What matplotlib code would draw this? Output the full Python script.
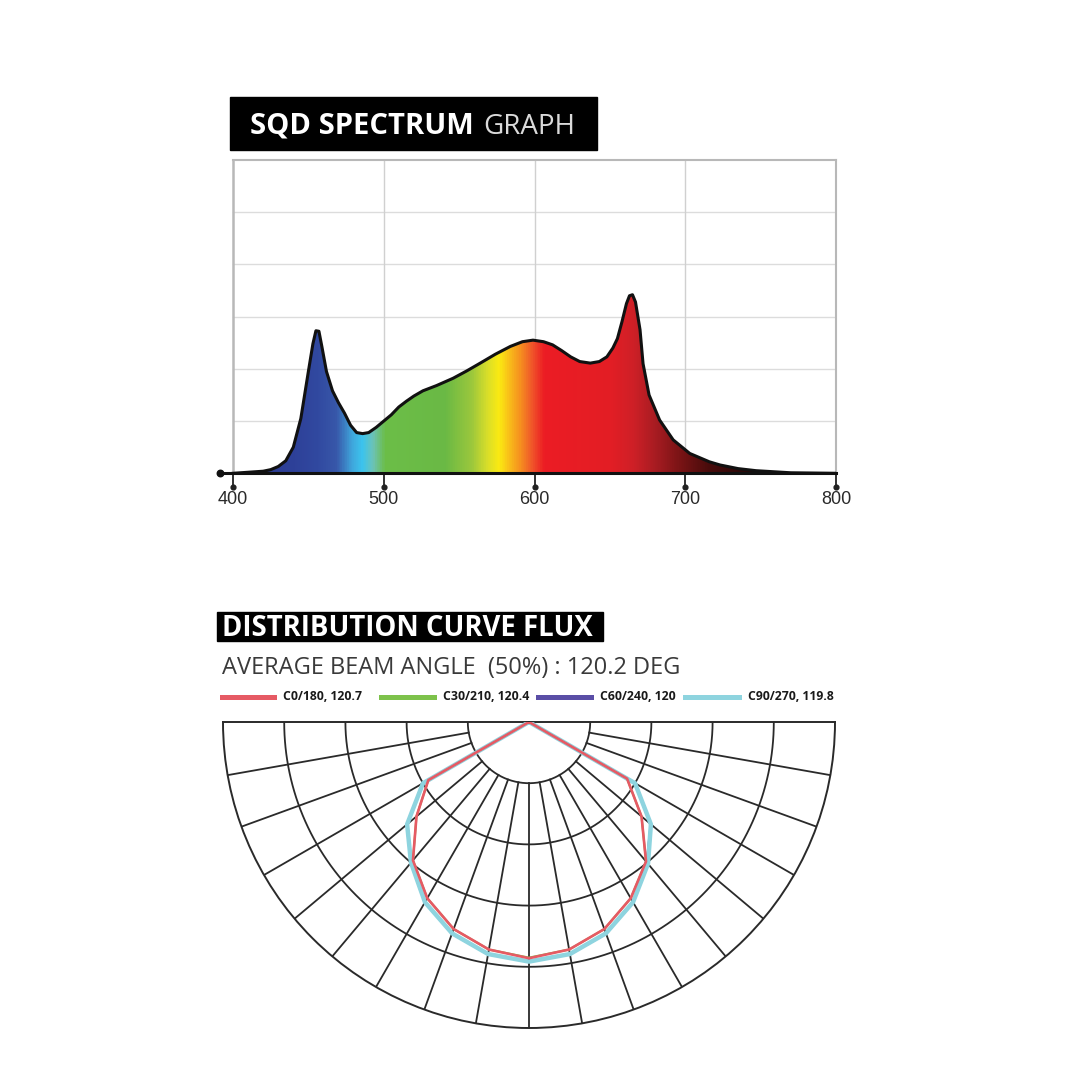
import numpy as np
import matplotlib
matplotlib.use("Agg")
import matplotlib.pyplot as plt
from matplotlib.colors import LinearSegmentedColormap, Normalize
from matplotlib.lines import Line2D
from matplotlib.patches import Rectangle, Polygon

# ---------------- data ----------------
wavelength_nm = [400, 410, 420, 425, 430, 435, 440, 445, 450, 453, 455, 457, 459, 462,
                 466, 470, 474, 478, 482, 486, 490, 495, 500, 505, 510, 515, 520,
                 526, 535, 546, 555, 564, 574, 584, 592, 599, 606, 612, 618, 624,
                 630, 637, 643, 648, 652, 655, 658, 661, 663, 665, 667, 670, 672, 676,
                 683, 692, 703, 716, 723, 735, 747, 770, 800]
intensity = [0.0, 0.02, 0.04, 0.07, 0.13, 0.24, 0.50, 1.05, 1.95, 2.48, 2.73, 2.72, 2.42, 1.95,
             1.58, 1.35, 1.15, 0.92, 0.78, 0.76, 0.78, 0.88, 1.00, 1.12, 1.27, 1.38, 1.48,
             1.58, 1.68, 1.82, 1.96, 2.11, 2.28, 2.43, 2.52, 2.55, 2.52, 2.46, 2.35, 2.23,
             2.14, 2.11, 2.14, 2.23, 2.40, 2.58, 2.90, 3.25, 3.40, 3.42, 3.28, 2.75, 2.10, 1.50,
             1.02, 0.64, 0.38, 0.22, 0.16, 0.09, 0.05, 0.01, 0.0]
x_ticks = [400, 500, 600, 700, 800]
x_tick_labels = ["400", "500", "600", "700", "800"]
y_grid = [1, 2, 3, 4, 5]

polar_angles_deg = [-90, -80, -70, -60, -50, -40, -30, -20, -10, 0,
                    10, 20, 30, 40, 50, 60, 70, 80, 90]
c0_180 = [0, 0, 0, 0.38, 0.48, 0.59, 0.665, 0.72, 0.755, 0.772,
          0.755, 0.72, 0.665, 0.595, 0.48, 0.37, 0, 0, 0]
c30_210 = [0, 0, 0, 0.38, 0.48, 0.59, 0.665, 0.72, 0.755, 0.77,
           0.755, 0.72, 0.665, 0.595, 0.48, 0.37, 0, 0, 0]
c60_240 = [0, 0, 0, 0.40, 0.52, 0.60, 0.68, 0.735, 0.77, 0.782,
           0.77, 0.735, 0.68, 0.60, 0.52, 0.40, 0, 0, 0]
c90_270 = [0, 0, 0, 0.40, 0.52, 0.60, 0.68, 0.735, 0.77, 0.783,
           0.77, 0.735, 0.68, 0.605, 0.52, 0.40, 0, 0, 0]
legend_labels = ["C0/180, 120.7", "C30/210, 120.4", "C60/240, 120", "C90/270, 119.8"]
legend_colors = ["#E65A64", "#7DC24B", "#5A4EA6", "#8ED4DF"]
ring_radii = [0.2, 0.4, 0.6, 0.8]
spoke_angles_deg = [-80, -70, -60, -50, -40, -30, -20, -10, 0, 10, 20, 30, 40, 50, 60, 70, 80]

# ---------------- figure ----------------
W = H = 1080
fig = plt.figure(figsize=(10.8, 10.8), dpi=100)
fig.patch.set_facecolor("white")


def fx(x):
    return x / W


def fy(y):
    return 1 - y / H


FONT = ["Open Sans", "DejaVu Sans"]

# ---- title box 1 ----
fig.add_artist(Rectangle((fx(230), fy(150)), (597 - 230) / W, (150 - 97) / H,
                         transform=fig.transFigure, color="black", zorder=1))
fig.text(fx(250), fy(133.5), "SQD SPECTRUM", color="white", fontsize=21,
         fontweight="bold", family=FONT, va="baseline", ha="left")
fig.text(fx(483), fy(133.5), "GRAPH", color="#DADADA", fontsize=20,
         fontweight="normal", family=FONT, va="baseline", ha="left")

# ---- spectrum axes ----
L, R, T, B = 220.5, 836, 160, 473.3
x_left = 400 - (233 - L) / ((836 - 233) / 400)
ax = fig.add_axes([fx(L), fy(B), (R - L) / W, (B - T) / H])
ax.set_xlim(x_left, 800)
ax.set_ylim(0, 6)
for s in ax.spines.values():
    s.set_visible(False)

stops = [(400, "#2B3A8C"), (440, "#2E4199"), (455, "#3149A0"), (468, "#3858AA"),
         (478, "#3FA6DC"), (485, "#3CC4EE"), (492, "#6CC3B8"), (500, "#6CBE48"),
         (540, "#6AB945"), (558, "#9CC83C"), (568, "#D8DE2A"), (576, "#FBEA12"),
         (582, "#F9C219"), (590, "#F6901F"), (598, "#F0552A"), (606, "#EC1C24"),
         (650, "#E31E25"), (665, "#CF2027"), (680, "#A81C22"), (695, "#7D1416"),
         (715, "#4A0C0C"), (740, "#2A0808"), (800, "#1A0606")]
cmap = LinearSegmentedColormap.from_list(
    "spec", [((w - 400) / 400, c) for w, c in stops])

# grid
for g in y_grid:
    ax.plot([400, 800], [g, g], color="#DCDCDC", lw=1.0, zorder=0)
for xv in x_ticks[1:-1]:
    ax.plot([xv, xv], [0, 6], color="#D0D0D0", lw=1.0, zorder=0)
# frame
ax.plot([400, 400], [0, 6], color="#B8B8B8", lw=1.8, zorder=1, clip_on=False)
ax.plot([400, 800], [6, 6], color="#B8B8B8", lw=1.5, zorder=1, clip_on=False)
ax.plot([800, 800], [0, 6], color="#B8B8B8", lw=1.5, zorder=1, clip_on=False)

verts = list(zip(wavelength_nm, intensity)) + [(800, 0), (400, 0)]
poly = Polygon(verts, closed=True, facecolor="none", edgecolor="none")
ax.add_patch(poly)
grad = np.linspace(x_left, 800, 1600)[None, :]
im = ax.imshow(grad, extent=[x_left, 800, 0, 6], aspect="auto", cmap=cmap,
               norm=Normalize(400, 800), origin="lower", zorder=2,
               interpolation="bilinear")
im.set_clip_path(poly)
ax.plot(wavelength_nm, intensity, color="#111111", lw=2.2, zorder=3,
        solid_joinstyle="round")

# baseline and ticks
ax.plot([x_left, 800], [0, 0], color="#111111", lw=2.2, zorder=4, clip_on=False)
ax.scatter([x_left], [0], s=22, color="#111111", zorder=5, clip_on=False)
ax.set_xticks(x_ticks)
ax.set_xticklabels(x_tick_labels, family=["Liberation Sans", "DejaVu Sans"],
                   fontsize=13, color="#2A2A2A")
ax.set_yticks([])
ax.tick_params(axis="x", direction="out", length=9.5, width=1.3, color="#222222", pad=3)
ax.scatter(x_ticks, [-0.26] * len(x_ticks), s=12, color="#222222", zorder=5, clip_on=False)

# ---- title box 2 ----
fig.add_artist(Rectangle((fx(217), fy(641)), (603 - 217) / W, (641 - 612) / H,
                         transform=fig.transFigure, color="black", zorder=1))
fig.text(fx(222), fy(636), "DISTRIBUTION CURVE FLUX", color="white", fontsize=19.8,
         fontweight="bold", family=FONT, va="baseline", ha="left")
fig.text(fx(222), fy(674), "AVERAGE BEAM ANGLE  (50%) : 120.2 DEG", color="#3A3A3A",
         fontsize=17, family=FONT, va="baseline", ha="left")

# legend
leg_line_x = [(222, 274), (381, 434), (538, 591), (685, 739)]
for (x0, x1), lab, col in zip(leg_line_x, legend_labels, legend_colors):
    fig.add_artist(Line2D([fx(x0), fx(x1)], [fy(697), fy(697)], color=col, lw=3.6,
                          transform=fig.transFigure))
    fig.text(fx(x1 + 9), fy(697), lab, color="#1A1A1A", fontsize=8.8,
             fontweight="bold", family=FONT, va="center", ha="left")

# ---- polar axes (square box centred on the half-disc) ----
Rp = 306
cx, cy = 529, 722
pax = fig.add_axes([fx(cx - Rp), fy(cy + Rp / 2 + Rp), 2 * Rp / W, 2 * Rp / H],
                   projection="polar")
pax.set_theta_zero_location("S")
pax.set_thetamin(-90)
pax.set_thetamax(90)
pax.set_rlim(0, 1)
pax.set_xticks([])
pax.set_yticks([])
pax.grid(False)
for sname in ["polar", "start", "end"]:
    pax.spines[sname].set_color("#2A2A2A")
    pax.spines[sname].set_linewidth(1.4)

th = np.radians(np.linspace(-90, 90, 361))
for r in ring_radii:
    pax.plot(th, [r] * len(th), color="#2A2A2A", lw=1.3, zorder=1)
for a in spoke_angles_deg:
    pax.plot([np.radians(a)] * 2, [0.2, 1.0], color="#2A2A2A", lw=1.3, zorder=1)

ang = np.radians(polar_angles_deg)
pax.plot(ang, c30_210, color=legend_colors[1], lw=1.5, zorder=3)
pax.plot(ang, c60_240, color=legend_colors[2], lw=2.0, zorder=3)
pax.plot(ang, c90_270, color=legend_colors[3], lw=3.2, zorder=4)
pax.plot(ang, c0_180, color=legend_colors[0], lw=1.9, zorder=5)

fig.savefig("out.png", dpi=100, facecolor="white")
